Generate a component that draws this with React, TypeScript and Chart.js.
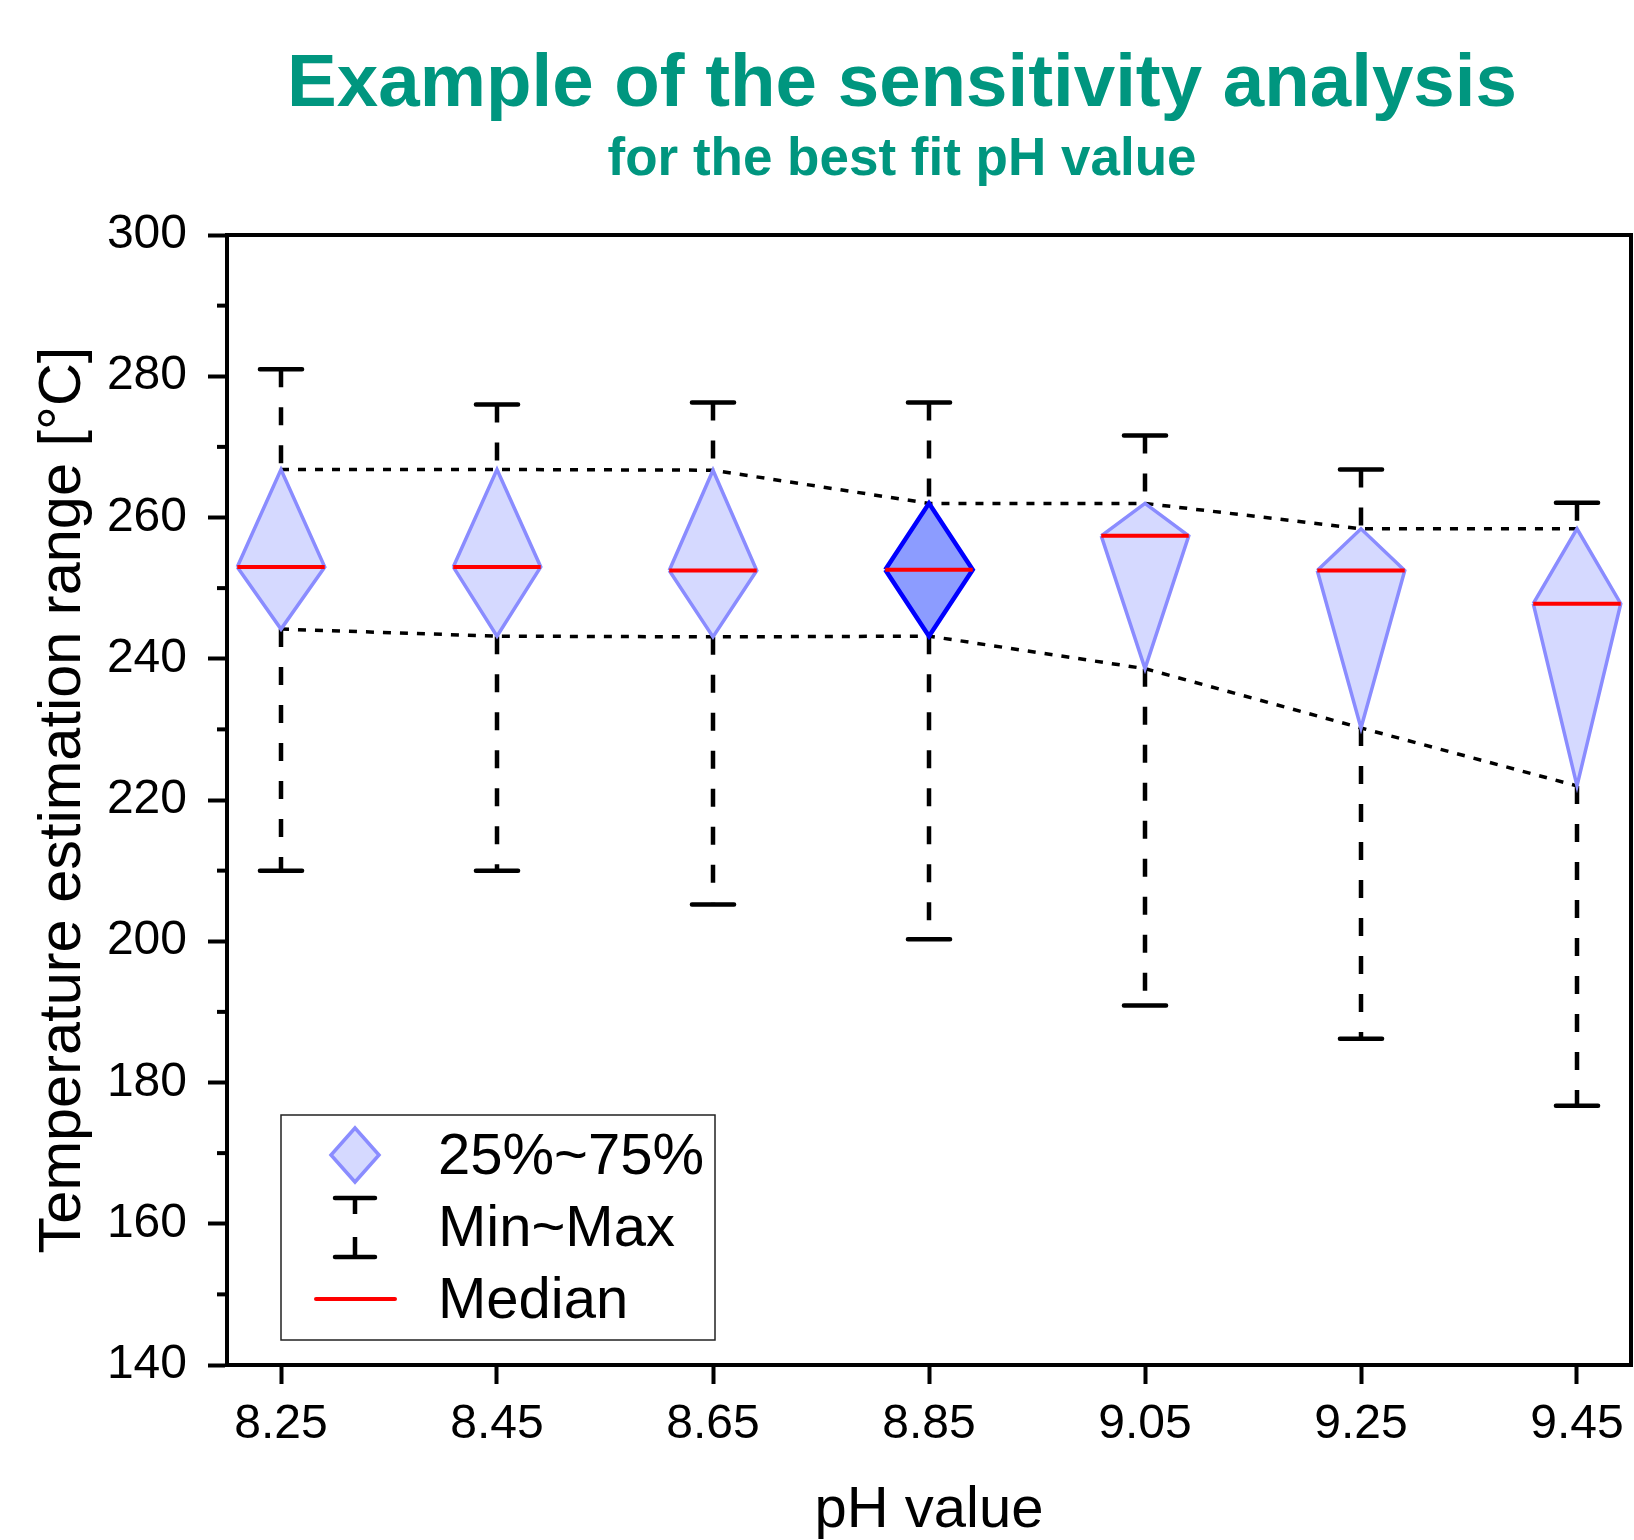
import React, { useEffect, useRef } from 'react';
import { Chart, registerables } from 'chart.js';

Chart.register(...registerables);

// ---------- data ----------
const phValues = [8.25, 8.45, 8.65, 8.85, 9.05, 9.25, 9.45];
const maxValues = [281.0, 276.0, 276.3, 276.3, 271.6, 266.8, 262.1];
const q3Values = [266.8, 266.8, 266.7, 262.0, 262.0, 258.4, 258.4];
const medianValues = [253.0, 253.0, 252.5, 252.6, 257.4, 252.5, 247.8];
const q1Values = [244.2, 243.2, 243.1, 243.2, 238.6, 230.2, 222.0];
const minValues = [210.0, 210.0, 205.2, 200.3, 190.9, 186.2, 176.7];
const highlightIndex = 3;

const xTickValues = [8.25, 8.45, 8.65, 8.85, 9.05, 9.25, 9.45];
const yMinorTickValues = [150, 170, 190, 210, 230, 250, 270, 290];

const titleText = 'Example of the sensitivity analysis';
const subtitleText = 'for the best fit pH value';
const xTitle = 'pH value';
const yTitle = 'Temperature estimation range [°C]';
const legendLabels = ['25%~75%', 'Min~Max', 'Median'];

// ---------- style ----------
const FONT = '"Liberation Sans", Arial, Helvetica, sans-serif';
const TEAL = '#00967F';
const BOX_FILL = 'rgb(213,217,255)';
const BOX_EDGE = 'rgb(138,140,255)';
const HL_FILL = 'rgb(140,156,255)';
const HL_EDGE = '#0000FF';
const DIAMOND_HW = 0.0405;
const CAP_HW = 0.0195;
const AXIS_W = 4;

Chart.defaults.font.family = FONT;

const diamondDatasets = phValues.map((x, i) => ({
  label: legendLabels[0],
  data: [
    { x: x - DIAMOND_HW, y: medianValues[i] },
    { x, y: q3Values[i] },
    { x: x + DIAMOND_HW, y: medianValues[i] },
    { x, y: q1Values[i] },
    { x: x - DIAMOND_HW, y: medianValues[i] },
  ],
  borderColor: i === highlightIndex ? HL_EDGE : BOX_EDGE,
  backgroundColor: i === highlightIndex ? HL_FILL : BOX_FILL,
  borderWidth: i === highlightIndex ? 4.5 : 3.5,
  fill: 'shape',
  tension: 0,
  pointRadius: 0,
  pointHoverRadius: 0,
  borderJoinStyle: 'miter',
  order: 1,
}));

const medianDataset = {
  label: legendLabels[2],
  data: phValues.flatMap((x, i) => [
    { x: x - DIAMOND_HW, y: medianValues[i] },
    { x: x + DIAMOND_HW, y: medianValues[i] },
    { x: x + DIAMOND_HW, y: null },
  ]),
  borderColor: '#FF0000',
  borderWidth: 4,
  pointRadius: 0,
  pointHoverRadius: 0,
  fill: false,
  spanGaps: false,
  order: 0,
};

const whiskerDataset = {
  label: legendLabels[1],
  data: phValues.flatMap((x, i) => [
    { x, y: maxValues[i] },
    { x, y: q3Values[i] },
    { x, y: null },
    { x, y: q1Values[i] },
    { x, y: minValues[i] },
    { x, y: null },
  ]),
  borderColor: '#000000',
  borderWidth: 4.5,
  borderDash: [18, 20],
  pointRadius: 0,
  pointHoverRadius: 0,
  fill: false,
  spanGaps: false,
  order: 2,
};

const capDataset = {
  label: 'caps',
  data: phValues.flatMap((x, i) => [
    { x: x - CAP_HW, y: maxValues[i] },
    { x: x + CAP_HW, y: maxValues[i] },
    { x: x + CAP_HW, y: null },
    { x: x - CAP_HW, y: minValues[i] },
    { x: x + CAP_HW, y: minValues[i] },
    { x: x + CAP_HW, y: null },
  ]),
  borderColor: '#000000',
  borderWidth: 4.5,
  borderCapStyle: 'round',
  pointRadius: 0,
  pointHoverRadius: 0,
  fill: false,
  spanGaps: false,
  order: 2,
};

const q3LineDataset = {
  label: 'q3 line',
  data: phValues.map((x, i) => ({ x, y: q3Values[i] })),
  borderColor: '#000000',
  borderWidth: 3.5,
  borderDash: [8, 9],
  pointRadius: 0,
  pointHoverRadius: 0,
  fill: false,
  order: 3,
};

const q1LineDataset = {
  label: 'q1 line',
  data: phValues.map((x, i) => ({ x, y: q1Values[i] })),
  borderColor: '#000000',
  borderWidth: 3.5,
  borderDash: [8, 9],
  pointRadius: 0,
  pointHoverRadius: 0,
  fill: false,
  order: 3,
};

const decorPlugin = {
  id: 'decor',
  afterDraw(chart: any) {
    const { ctx, chartArea } = chart;
    const { left, right, top, bottom } = chartArea;
    const yScale = chart.scales.y;
    ctx.save();

    // frame top and right
    ctx.strokeStyle = '#000';
    ctx.lineWidth = AXIS_W;
    ctx.lineCap = 'square';
    ctx.setLineDash([]);
    ctx.beginPath();
    ctx.moveTo(left, top);
    ctx.lineTo(right, top);
    ctx.lineTo(right, bottom);
    ctx.stroke();

    // minor ticks
    ctx.lineCap = 'butt';
    yMinorTickValues.forEach((v) => {
      const py = yScale.getPixelForValue(v);
      ctx.beginPath();
      ctx.moveTo(left - 2, py);
      ctx.lineTo(left - 10, py);
      ctx.stroke();
    });

    // titles
    ctx.fillStyle = TEAL;
    ctx.textAlign = 'center';
    ctx.textBaseline = 'alphabetic';
    ctx.font = `bold 74.5px ${FONT}`;
    ctx.fillText(titleText, 902, 106);
    ctx.font = `bold 53px ${FONT}`;
    ctx.fillText(subtitleText, 902, 175);

    // legend
    const bx = 281, by = 1115, bw = 434, bh = 225;
    ctx.fillStyle = '#fff';
    ctx.fillRect(bx, by, bw, bh);
    ctx.strokeStyle = '#222';
    ctx.lineWidth = 1.5;
    ctx.strokeRect(bx, by, bw, bh);

    const ix = 355;
    const rows = [1155, 1227, 1299];
    // diamond icon
    ctx.beginPath();
    ctx.moveTo(ix, rows[0] - 27);
    ctx.lineTo(ix + 24, rows[0]);
    ctx.lineTo(ix, rows[0] + 27);
    ctx.lineTo(ix - 24, rows[0]);
    ctx.closePath();
    ctx.fillStyle = BOX_FILL;
    ctx.fill();
    ctx.strokeStyle = BOX_EDGE;
    ctx.lineWidth = 3.5;
    ctx.stroke();

    // min~max icon
    ctx.strokeStyle = '#000';
    ctx.lineWidth = 4.5;
    ctx.lineCap = 'round';
    ctx.beginPath();
    ctx.moveTo(ix - 20, 1198);
    ctx.lineTo(ix + 20, 1198);
    ctx.moveTo(ix - 20, 1257);
    ctx.lineTo(ix + 20, 1257);
    ctx.stroke();
    ctx.lineCap = 'butt';
    ctx.beginPath();
    ctx.moveTo(ix, 1198);
    ctx.lineTo(ix, 1214);
    ctx.moveTo(ix, 1237);
    ctx.lineTo(ix, 1257);
    ctx.stroke();

    // median icon
    ctx.strokeStyle = '#FF0000';
    ctx.lineWidth = 4;
    ctx.lineCap = 'round';
    ctx.beginPath();
    ctx.moveTo(316, rows[2]);
    ctx.lineTo(395, rows[2]);
    ctx.stroke();

    ctx.fillStyle = '#000';
    ctx.textAlign = 'left';
    ctx.textBaseline = 'middle';
    ctx.font = `58px ${FONT}`;
    legendLabels.forEach((t, i) => ctx.fillText(t, 438, rows[i] + 3));

    ctx.restore();
  },
};

export default function App() {
  const ref = useRef<HTMLCanvasElement | null>(null);
  useEffect(() => {
    if (!ref.current) return;
    const chart = new Chart(ref.current, {
      type: 'line',
      data: {
        datasets: [
          medianDataset,
          ...diamondDatasets,
          whiskerDataset,
          capDataset,
          q3LineDataset,
          q1LineDataset,
        ] as any,
      },
      options: {
        animation: false,
        responsive: false,
        maintainAspectRatio: false,
        events: [],
        layout: { padding: { top: 235, right: 3, left: 0, bottom: 0 } },
        plugins: {
          legend: { display: false },
          tooltip: { enabled: false },
          title: { display: false },
        },
        scales: {
          x: {
            type: 'linear',
            min: 8.2,
            max: 9.5,
            afterBuildTicks: (s: any) => {
              s.ticks = xTickValues.map((v) => ({ value: v }));
            },
            afterFit: (s: any) => {
              s.height = 175;
              s.paddingLeft = 0;
              s.paddingRight = 0;
            },
            ticks: {
              callback: (v: any) => Number(v).toFixed(2),
              font: { family: FONT, size: 48 },
              color: '#000',
              padding: 12,
              maxRotation: 0,
              autoSkip: false,
            },
            grid: {
              display: true,
              drawOnChartArea: false,
              drawTicks: true,
              tickLength: 19,
              tickWidth: AXIS_W,
              tickColor: '#000',
            },
            border: { display: true, color: '#000', width: AXIS_W },
            title: {
              display: true,
              text: xTitle,
              color: '#000',
              font: { family: FONT, size: 58, lineHeight: 1 },
              padding: { top: 0, bottom: 0 },
            },
          },
          y: {
            type: 'linear',
            min: 140,
            max: 300,
            afterFit: (s: any) => {
              s.width = 227;
              s.paddingTop = 0;
              s.paddingBottom = 0;
            },
            ticks: {
              stepSize: 20,
              font: { family: FONT, size: 48 },
              color: '#000',
              padding: 21,
            },
            grid: {
              display: true,
              drawOnChartArea: false,
              drawTicks: true,
              tickLength: 19,
              tickWidth: AXIS_W,
              tickColor: '#000',
            },
            border: { display: true, color: '#000', width: AXIS_W },
            title: {
              display: true,
              text: yTitle,
              color: '#000',
              font: { family: FONT, size: 59.5, lineHeight: 1 },
              padding: { top: 34, bottom: 0 },
            },
          },
        },
      } as any,
      plugins: [decorPlugin],
    });
    return () => chart.destroy();
  }, []);

  return (
    <div style={{ position: 'absolute', left: 0, top: 0, width: 1634, height: 1540, background: '#fff' }}>
      <canvas ref={ref} width={1634} height={1540} style={{ display: 'block', width: 1634, height: 1540 }} />
    </div>
  );
}
